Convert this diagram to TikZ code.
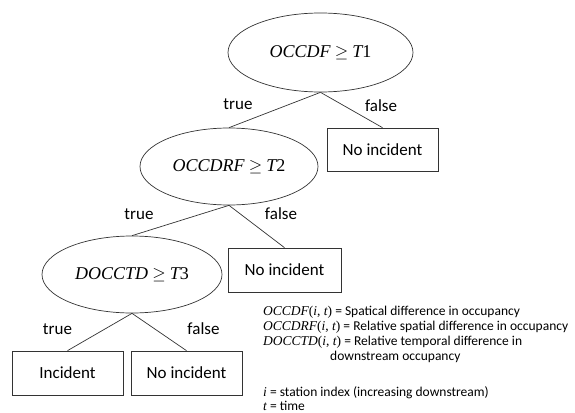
\documentclass[tikz,border=0pt]{standalone}
\usepackage[no-math]{fontspec}
\setmainfont{Carlito}
\newfontfamily\mf{Liberation Serif}
\newcommand{\mv}[1]{{\mf\itshape #1}}
\newcommand{\mr}[1]{{\mf #1}}
\usetikzlibrary{shapes.geometric}
\tikzset{
  cond/.style={ellipse, draw=black!80, line width=0.7pt, inner sep=0pt, font=\fontsize{18}{21}\selectfont},
  leaf/.style={rectangle, draw=black!80, line width=0.7pt, inner sep=0pt, font=\fontsize{17}{20}\selectfont},
  edge/.style={draw=black!80, line width=0.7pt},
  lbl/.style={font=\fontsize{17}{20}\selectfont, inner sep=0pt},
  leg/.style={anchor=base west, inner sep=0pt, font=\fontsize{13.5}{16}\selectfont}
}
\begin{document}
\begin{tikzpicture}[x=1pt, y=-1pt]
\useasboundingbox (0,0) rectangle (575,412);
% conditions
\node[cond, minimum width=185pt, minimum height=79pt] (e1) at (320.5,52.5) {\mv{OCCDF} $\geq$ \mv{T}\mr{1}};
\node[cond, minimum width=178pt, minimum height=77pt] (e2) at (229,166.5) {\mv{OCCDRF} $\geq$ \mv{T}\mr{2}};
\node[cond, minimum width=180pt, minimum height=77pt] (e3) at (132,274.5) {\mv{DOCCTD} $\geq$ \mv{T}\mr{3}};
% leaves
\node[leaf, minimum width=111pt, minimum height=43pt] (b1) at (382.5,149.5) {No incident};
\node[leaf, minimum width=113pt, minimum height=44pt] (b2) at (284.5,270) {No incident};
\node[leaf, minimum width=111pt, minimum height=44pt] (b3) at (67.5,373) {Incident};
\node[leaf, minimum width=111pt, minimum height=44pt] (b4) at (186.5,373) {No incident};
% edges
\draw[edge] (e1.south) -- (e2.north);
\draw[edge] (e1.south) -- (b1.north);
\draw[edge] (e2.south) -- (e3.north);
\draw[edge] (e2.south) -- (b2.north);
\draw[edge] (e3.south) -- (b3.north);
\draw[edge] (e3.south) -- (b4.north);
% edge labels
\node[lbl] (t1) at (238,104) {true};
\node[lbl] (f1) at (381,106) {false};
\node[lbl] (t2) at (139,214) {true};
\node[lbl] (f2) at (281,214) {false};
\node[lbl] (t3) at (57.5,329) {true};
\node[lbl] (f3) at (203.5,329) {false};
% legend
\node[leg] (l1) at (263,315.5) {\mv{OCCDF}\mr{(}\mv{i}\mr{, }\mv{t}\mr{)} = Spatical difference in occupancy};
\node[leg] (l2) at (263,330.5) {\mv{OCCDRF}\mr{(}\mv{i}\mr{, }\mv{t}\mr{)} = Relative spatial difference in occupancy};
\node[leg] (l3) at (263,345.5) {\mv{DOCCTD}\mr{(}\mv{i}\mr{, }\mv{t}\mr{)} = Relative temporal difference in};
\node[leg] (l4) at (330,360.5) {downstream occupancy};
\node[leg] (l5) at (263,396) {\mv{i} = station index (increasing downstream)};
\node[leg] (l6) at (263,410.5) {\mv{t} = time};
\end{tikzpicture}
\end{document}
